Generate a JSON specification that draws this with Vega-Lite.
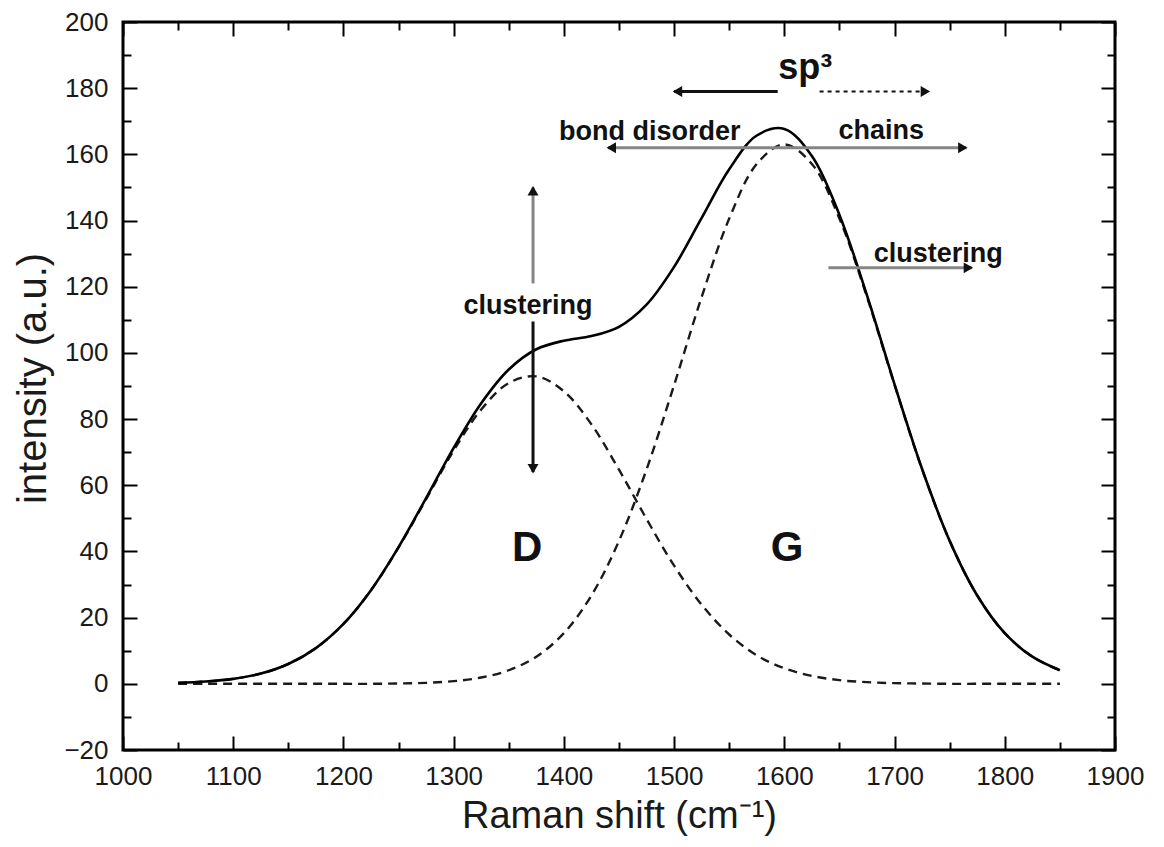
{
  "$schema": "https://vega.github.io/schema/vega-lite/v6.json",
  "width": 992,
  "height": 728,
  "autosize": {"type": "none"},
  "padding": {"left": 123, "top": 22, "right": 49, "bottom": 97},
  "background": "white",
  "config": {
    "view": {"stroke": "black", "strokeWidth": 3},
    "axis": {
      "grid": false,
      "domain": false,
      "tickColor": "black",
      "tickWidth": 2,
      "tickSize": 14,
      "labelFont": "Liberation Sans",
      "labelFontSize": 26,
      "labelColor": "#1a1a1a",
      "labelOverlap": false,
      "labelFlush": false,
      "labelBound": false,
      "titleFont": "Liberation Sans",
      "titleFontWeight": "normal",
      "titleColor": "#1a1a1a",
      "titleFontSize": 38
    }
  },
  "datasets": {
    "curves": [
      {"shift": 1050, "total": 0.3, "D": 0.3, "G": 0},
      {"shift": 1075, "total": 0.7, "D": 0.7, "G": 0},
      {"shift": 1100, "total": 1.5, "D": 1.5, "G": 0},
      {"shift": 1125, "total": 3.1, "D": 3.1, "G": 0},
      {"shift": 1150, "total": 6.0, "D": 6.0, "G": 0},
      {"shift": 1175, "total": 10.8, "D": 10.8, "G": 0},
      {"shift": 1200, "total": 18.1, "D": 18.1, "G": 0},
      {"shift": 1225, "total": 28.3, "D": 28.3, "G": 0},
      {"shift": 1250, "total": 41.3, "D": 41.2, "G": 0.1},
      {"shift": 1275, "total": 56.1, "D": 55.8, "G": 0.3},
      {"shift": 1300, "total": 71.3, "D": 70.5, "G": 0.8},
      {"shift": 1325, "total": 84.8, "D": 82.9, "G": 1.9},
      {"shift": 1350, "total": 95.0, "D": 90.9, "G": 4.1},
      {"shift": 1375, "total": 101.1, "D": 92.9, "G": 8.2},
      {"shift": 1400, "total": 103.7, "D": 88.4, "G": 15.3},
      {"shift": 1425, "total": 105.1, "D": 78.4, "G": 26.7},
      {"shift": 1450, "total": 107.9, "D": 64.7, "G": 43.2},
      {"shift": 1475, "total": 114.6, "D": 49.8, "G": 64.8},
      {"shift": 1500, "total": 126.0, "D": 35.7, "G": 90.3},
      {"shift": 1525, "total": 140.8, "D": 23.9, "G": 116.9},
      {"shift": 1550, "total": 155.5, "D": 14.9, "G": 140.6},
      {"shift": 1575, "total": 165.7, "D": 8.6, "G": 157.1},
      {"shift": 1600, "total": 167.7, "D": 4.7, "G": 163.0},
      {"shift": 1625, "total": 159.5, "D": 2.4, "G": 157.1},
      {"shift": 1650, "total": 141.7, "D": 1.1, "G": 140.6},
      {"shift": 1675, "total": 117.4, "D": 0.5, "G": 116.9},
      {"shift": 1700, "total": 90.5, "D": 0.2, "G": 90.3},
      {"shift": 1725, "total": 64.9, "D": 0.1, "G": 64.8},
      {"shift": 1750, "total": 43.2, "D": 0, "G": 43.2},
      {"shift": 1775, "total": 26.7, "D": 0, "G": 26.7},
      {"shift": 1800, "total": 15.3, "D": 0, "G": 15.3},
      {"shift": 1825, "total": 8.2, "D": 0, "G": 8.2},
      {"shift": 1850, "total": 4.1, "D": 0, "G": 4.1}
    ],
    "arrows": [
      {"x": 1594, "x2": 1500, "y": 179, "y2": 179, "kind": "black"},
      {"x": 1632, "x2": 1728, "y": 179, "y2": 179, "kind": "dotted"},
      {"x": 1440, "x2": 1765, "y": 162, "y2": 162, "kind": "gray"},
      {"x": 1640, "x2": 1770, "y": 125.7, "y2": 125.7, "kind": "gray"},
      {"x": 1372, "x2": 1372, "y": 121, "y2": 150, "kind": "gray"},
      {"x": 1372, "x2": 1372, "y": 109.5, "y2": 64, "kind": "black"}
    ],
    "heads": [
      {"x": 1503, "y": 179, "dir": "left"},
      {"x": 1728, "y": 179, "dir": "right"},
      {"x": 1443, "y": 162, "dir": "left"},
      {"x": 1762, "y": 162, "dir": "right"},
      {"x": 1767, "y": 125.7, "dir": "right"},
      {"x": 1372, "y": 149, "dir": "up"},
      {"x": 1372, "y": 65, "dir": "down"}
    ],
    "labels": [
      {"x": 1478, "y": 166.8, "text": "bond disorder", "kind": "note"},
      {"x": 1688, "y": 167, "text": "chains", "kind": "note"},
      {"x": 1367.5, "y": 114.2, "text": "clustering", "kind": "note"},
      {"x": 1739.6, "y": 129.9, "text": "clustering", "kind": "note"},
      {"x": 1619, "y": 186, "text": "sp³", "kind": "sp"},
      {"x": 1366.6, "y": 41, "text": "D", "kind": "peak"},
      {"x": 1602.5, "y": 41, "text": "G", "kind": "peak"}
    ]
  },
  "resolve": {"axis": {"x": "independent", "y": "independent"}},
  "layer": [
    {
      "data": {"name": "curves"},
      "transform": [{"fold": ["D", "G"], "as": ["component", "intensity"]}],
      "mark": {"type": "line", "interpolate": "catmull-rom", "strokeDash": [9, 6], "strokeWidth": 2.4, "color": "#1a1a1a"},
      "encoding": {
        "x": {
          "field": "shift", "type": "quantitative",
          "scale": {"domain": [1000, 1900], "nice": false, "zero": false},
          "axis": {
            "orient": "bottom",
            "values": [1000, 1100, 1200, 1300, 1400, 1500, 1600, 1700, 1800, 1900],
            "format": "d",
            "ticks": false,
            "tickSize": 0,
            "labelPadding": 13,
            "title": "Raman shift (cm⁻¹)",
            "titleBaseline": "alphabetic",
            "titleY": 77
          }
        },
        "y": {
          "field": "intensity", "type": "quantitative",
          "scale": {"domain": [-20, 200], "nice": false, "zero": false},
          "axis": {
            "orient": "left",
            "values": [-20, 0, 20, 40, 60, 80, 100, 120, 140, 160, 180, 200],
            "format": "d",
            "ticks": false,
            "tickSize": 0,
            "labelPadding": 15,
            "title": "intensity (a.u.)",
            "titleFontSize": 40,
            "titleX": -90,
            "titleY": 356,
            "titleAlign": "center",
            "titleBaseline": "middle"
          }
        },
        "detail": {"field": "component", "type": "nominal"}
      }
    },
    {
      "data": {"name": "curves"},
      "mark": {"type": "line", "interpolate": "catmull-rom", "strokeWidth": 2.6, "color": "black"},
      "encoding": {
        "x": {
          "field": "shift", "type": "quantitative",
          "scale": {"domain": [1000, 1900], "nice": false, "zero": false},
          "axis": {
            "orient": "top",
            "offset": -728,
            "values": [1000, 1050, 1100, 1150, 1200, 1250, 1300, 1350, 1400, 1450, 1500, 1550, 1600, 1650, 1700, 1750, 1800, 1850, 1900],
            "labels": false,
            "title": null,
            "tickDash": {"condition": {"test": "datum.value % 100 === 0", "value": [20, 0]}, "value": [8, 20]}
          }
        },
        "y": {
          "field": "total", "type": "quantitative",
          "scale": {"domain": [-20, 200], "nice": false, "zero": false},
          "axis": {
            "orient": "right",
            "offset": -992,
            "values": [-20, -10, 0, 10, 20, 30, 40, 50, 60, 70, 80, 90, 100, 110, 120, 130, 140, 150, 160, 170, 180, 190, 200],
            "labels": false,
            "title": null,
            "tickDash": {"condition": {"test": "datum.value % 20 === 0", "value": [20, 0]}, "value": [8, 20]}
          }
        }
      }
    },
    {
      "data": {"name": "arrows"},
      "transform": [{"filter": "datum.kind !== 'dotted'"}],
      "mark": {"type": "rule", "strokeWidth": 3},
      "encoding": {
        "x": {
          "field": "x", "type": "quantitative",
          "scale": {"domain": [1000, 1900], "nice": false, "zero": false},
          "axis": {
            "orient": "bottom",
            "offset": -728,
            "values": [1000, 1050, 1100, 1150, 1200, 1250, 1300, 1350, 1400, 1450, 1500, 1550, 1600, 1650, 1700, 1750, 1800, 1850, 1900],
            "labels": false,
            "title": null,
            "tickDash": {"condition": {"test": "datum.value % 100 === 0", "value": [20, 0]}, "value": [8, 20]}
          }
        },
        "x2": {"field": "x2"},
        "y": {
          "field": "y", "type": "quantitative",
          "scale": {"domain": [-20, 200], "nice": false, "zero": false},
          "axis": {
            "orient": "left",
            "offset": -992,
            "values": [-20, -10, 0, 10, 20, 30, 40, 50, 60, 70, 80, 90, 100, 110, 120, 130, 140, 150, 160, 170, 180, 190, 200],
            "labels": false,
            "title": null,
            "tickDash": {"condition": {"test": "datum.value % 20 === 0", "value": [20, 0]}, "value": [8, 20]}
          }
        },
        "y2": {"field": "y2"},
        "color": {"field": "kind", "type": "nominal", "scale": {"domain": ["black", "gray"], "range": ["#111111", "#858585"]}, "legend": null}
      }
    },
    {
      "data": {"name": "arrows"},
      "transform": [{"filter": "datum.kind === 'dotted'"}],
      "mark": {"type": "rule", "strokeWidth": 2, "strokeDash": [4, 4], "color": "#111111"},
      "encoding": {
        "x": {"field": "x", "type": "quantitative", "axis": null},
        "x2": {"field": "x2"},
        "y": {"field": "y", "type": "quantitative", "axis": null},
        "y2": {"field": "y2"}
      }
    },
    {
      "data": {"name": "heads"},
      "mark": {"type": "point", "filled": true, "size": 120, "color": "#111111", "opacity": 1},
      "encoding": {
        "x": {"field": "x", "type": "quantitative", "axis": null},
        "y": {"field": "y", "type": "quantitative", "axis": null},
        "shape": {"field": "dir", "type": "nominal", "scale": {"domain": ["left", "right", "up", "down"], "range": ["triangle-left", "triangle-right", "triangle-up", "triangle-down"]}, "legend": null}
      }
    },
    {
      "data": {"name": "labels"},
      "transform": [{"filter": "datum.kind === 'note'"}],
      "mark": {"type": "text", "font": "Liberation Sans", "fontWeight": "bold", "fontSize": 27, "align": "center", "baseline": "middle", "color": "#111111"},
      "encoding": {
        "x": {"field": "x", "type": "quantitative", "axis": null},
        "y": {"field": "y", "type": "quantitative", "axis": null},
        "text": {"field": "text"}
      }
    },
    {
      "data": {"name": "labels"},
      "transform": [{"filter": "datum.kind === 'sp'"}],
      "mark": {"type": "text", "font": "Liberation Sans", "fontWeight": "bold", "fontSize": 36, "align": "center", "baseline": "middle", "color": "#111111"},
      "encoding": {
        "x": {"field": "x", "type": "quantitative", "axis": null},
        "y": {"field": "y", "type": "quantitative", "axis": null},
        "text": {"field": "text"}
      }
    },
    {
      "data": {"name": "labels"},
      "transform": [{"filter": "datum.kind === 'peak'"}],
      "mark": {"type": "text", "font": "Liberation Sans", "fontWeight": "bold", "fontSize": 42, "align": "center", "baseline": "middle", "color": "#111111"},
      "encoding": {
        "x": {"field": "x", "type": "quantitative", "axis": null},
        "y": {"field": "y", "type": "quantitative", "axis": null},
        "text": {"field": "text"}
      }
    }
  ]
}
